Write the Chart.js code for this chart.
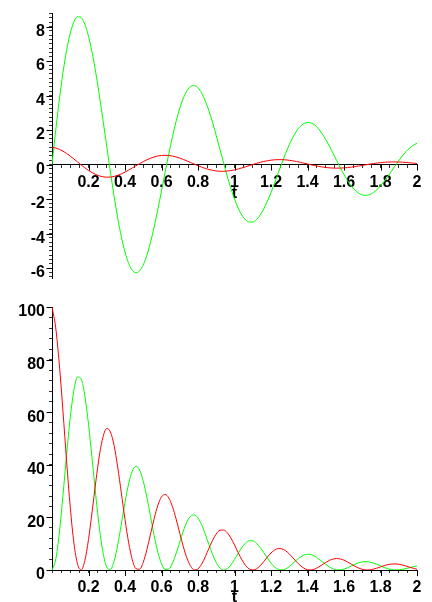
<!DOCTYPE html>
<html>
<head>
<meta charset="utf-8">
<script src="https://cdn.jsdelivr.net/npm/chart.js@4.4.1/dist/chart.umd.min.js"></script>
<style>
  html, body { margin: 0; padding: 0; background: #fff; width: 432px; height: 602px; overflow: hidden; }
  .box { position: absolute; left: 0; width: 432px; }
  #top { top: 0; height: 292px; }
  #bottom { top: 292px; height: 310px; }
  canvas { display: block; }
</style>
</head>
<body>
<div class="box" id="top"><canvas id="c1" width="432" height="292"></canvas></div>
<div class="box" id="bottom"><canvas id="c2" width="432" height="310"></canvas></div>
<script>
// sample times
const t = [
  0, 0.02, 0.04, 0.06, 0.08, 0.10, 0.12, 0.14, 0.16, 0.18,
  0.20, 0.22, 0.24, 0.26, 0.28, 0.30, 0.32, 0.34, 0.36, 0.38,
  0.40, 0.42, 0.44, 0.46, 0.48, 0.50, 0.52, 0.54, 0.56, 0.58,
  0.60, 0.62, 0.64, 0.66, 0.68, 0.70, 0.72, 0.74, 0.76, 0.78,
  0.80, 0.82, 0.84, 0.86, 0.88, 0.90, 0.92, 0.94, 0.96, 0.98,
  1.00, 1.02, 1.04, 1.06, 1.08, 1.10, 1.12, 1.14, 1.16, 1.18,
  1.20, 1.22, 1.24, 1.26, 1.28, 1.30, 1.32, 1.34, 1.36, 1.38,
  1.40, 1.42, 1.44, 1.46, 1.48, 1.50, 1.52, 1.54, 1.56, 1.58,
  1.60, 1.62, 1.64, 1.66, 1.68, 1.70, 1.72, 1.74, 1.76, 1.78,
  1.80, 1.82, 1.84, 1.86, 1.88, 1.90, 1.92, 1.94, 1.96, 1.98,
  2.00
];

// upper panel: displacement (red) and velocity-like term (green)
const displacement = [
  1.000, 0.961, 0.885, 0.777, 0.643, 0.489, 0.321, 0.148, -0.025, -0.190,
  -0.341, -0.472, -0.580, -0.661, -0.712, -0.733, -0.725, -0.688, -0.626, -0.541,
  -0.438, -0.322, -0.198, -0.071, 0.054, 0.172, 0.279, 0.370, 0.443, 0.496,
  0.527, 0.536, 0.524, 0.491, 0.440, 0.374, 0.296, 0.209, 0.118, 0.025,
  -0.065, -0.149, -0.224, -0.287, -0.336, -0.371, -0.389, -0.391, -0.377, -0.349,
  -0.309, -0.258, -0.198, -0.134, -0.066, 0.002, 0.066, 0.126, 0.178, 0.221,
  0.254, 0.276, 0.285, 0.284, 0.270, 0.247, 0.215, 0.176, 0.131, 0.083,
  0.034, -0.015, -0.062, -0.104, -0.140, -0.170, -0.191, -0.204, -0.209, -0.205,
  -0.193, -0.174, -0.149, -0.119, -0.086, -0.050, -0.014, 0.021, 0.054, 0.084,
  0.109, 0.129, 0.143, 0.151, 0.152, 0.148, 0.138, 0.123, 0.103, 0.080,
  0.055
];
const velocity = [
  0, 1.95, 3.74, 5.32, 6.62, 7.61, 8.27, 8.57, 8.52, 8.13,
  7.44, 6.49, 5.31, 3.98, 2.53, 1.05, -0.42, -1.82, -3.09, -4.19,
  -5.07, -5.73, -6.13, -6.27, -6.16, -5.82, -5.25, -4.50, -3.61, -2.60,
  -1.53, -0.45, 0.61, 1.61, 2.50, 3.26, 3.86, 4.29, 4.53, 4.58,
  4.45, 4.14, 3.69, 3.11, 2.43, 1.68, 0.89, 0.10, -0.67, -1.38,
  -2.00, -2.52, -2.93, -3.20, -3.33, -3.33, -3.20, -2.94, -2.58, -2.13,
  -1.62, -1.06, -0.48, 0.10, 0.64, 1.15, 1.58, 1.94, 2.21, 2.37,
  2.44, 2.41, 2.29, 2.08, 1.79, 1.45, 1.07, 0.65, 0.23, -0.19,
  -0.58, -0.94, -1.24, -1.48, -1.66, -1.76, -1.79, -1.74, -1.63, -1.46,
  -1.24, -0.98, -0.69, -0.39, -0.08, 0.22, 0.50, 0.75, 0.96, 1.12,
  1.24
];

// lower panel: the two energy terms
const potential = [
  100, 92.3, 78.3, 60.4, 41.4, 23.9, 10.3, 2.18, 0.06, 3.60,
  11.6, 22.3, 33.6, 43.7, 50.7, 53.8, 52.5, 47.4, 39.1, 29.3,
  19.2, 10.4, 3.92, 0.50, 0.29, 2.96, 7.76, 13.7, 19.6, 24.6,
  27.8, 28.7, 27.4, 24.1, 19.4, 14.0, 8.77, 4.38, 1.38, 0.06,
  0.43, 2.23, 5.03, 8.25, 11.3, 13.7, 15.1, 15.2, 14.2, 12.2,
  9.53, 6.63, 3.93, 1.78, 0.44, 0.00, 0.44, 1.58, 3.17, 4.90,
  6.46, 7.60, 8.15, 8.04, 7.31, 6.12, 4.63, 3.10, 1.73, 0.70,
  0.11, 0.02, 0.38, 1.07, 1.96, 2.87, 3.65, 4.17, 4.36, 4.21,
  3.74, 3.04, 2.23, 1.43, 0.74, 0.25, 0.02, 0.05, 0.30, 0.70,
  1.19, 1.66, 2.05, 2.28, 2.32, 2.19, 1.90, 1.50, 1.06, 0.64,
  0.30
];
const kinetic = [
  0, 3.79, 14.0, 28.3, 43.9, 58.0, 68.3, 73.4, 72.6, 66.2,
  55.4, 42.1, 28.2, 15.8, 6.41, 1.09, 0.18, 3.31, 9.53, 17.5,
  25.7, 32.8, 37.6, 39.4, 38.0, 33.8, 27.6, 20.3, 13.0, 6.77,
  2.35, 0.20, 0.38, 2.59, 6.27, 10.6, 14.9, 18.4, 20.5, 20.9,
  19.8, 17.2, 13.6, 9.66, 5.89, 2.81, 0.79, 0.01, 0.45, 1.89,
  4.01, 6.37, 8.56, 10.2, 11.1, 11.1, 10.2, 8.64, 6.65, 4.54,
  2.61, 1.12, 0.23, 0.01, 0.41, 1.31, 2.50, 3.76, 4.86, 5.64,
  5.97, 5.82, 5.23, 4.32, 3.22, 2.11, 1.14, 0.42, 0.05, 0.04,
  0.34, 0.87, 1.53, 2.19, 2.74, 3.08, 3.19, 3.04, 2.66, 2.14,
  1.54, 0.96, 0.48, 0.15, 0.01, 0.05, 0.25, 0.56, 0.92, 1.26,
  1.53
];

const RED = '#ff0000';
const GREEN = '#00ff00';
const FONT = { family: '"Liberation Sans", Arial, sans-serif', size: 16, weight: 'bold' };

const pairs = ys => t.map((x, i) => ({ x, y: ys[i] }));

function line(data, color) {
  return {
    data: pairs(data),
    borderColor: color,
    borderWidth: 1,
    pointRadius: 0,
    fill: false,
    cubicInterpolationMode: 'monotone'
  };
}

function xAxis(position, height, titlePad) {
  return {
    type: 'linear', min: 0, max: 2, position,
    border: { display: true, color: '#000', width: 1 },
    grid: { drawOnChartArea: false, drawTicks: true, tickLength: 3, color: '#333' },
    ticks: {
      stepSize: 0.05, autoSkip: false, maxRotation: 0, includeBounds: false,
      padding: 5, color: '#000', font: FONT,
      callback: v => {
        const k = Math.round(v / 0.05);
        return (k % 4 === 0 && k !== 0) ? String(+v.toFixed(1)) : '';
      }
    },
    title: { display: true, text: 't', color: '#000', font: FONT, padding: { top: 0, bottom: titlePad } },
    afterFit: s => { s.height = height; }
  };
}

function yAxis(min, max, step, major) {
  return {
    type: 'linear', min, max, position: 'left',
    border: { display: true, color: '#000', width: 1 },
    grid: { drawOnChartArea: false, drawTicks: true, tickLength: 3, color: '#333' },
    ticks: {
      stepSize: step, autoSkip: false, includeBounds: false,
      padding: 4, labelOffset: 5, color: '#000', font: FONT,
      callback: v => {
        const k = Math.round(v / step);
        const per = Math.round(major / step);
        return k % per === 0 ? String(Math.round(v)) : '';
      }
    },
    afterFit: s => { s.width = 52; }
  };
}

// longer marks at the labelled ticks
const majorTicks = {
  id: 'majorTicks',
  afterDraw(chart) {
    const ctx = chart.ctx;
    ctx.save();
    ctx.strokeStyle = '#000';
    ctx.lineWidth = 1;
    for (const scale of Object.values(chart.scales)) {
      ctx.beginPath();
      scale.ticks.forEach(tk => {
        if (!tk.label) return;
        const p = Math.round(scale.getPixelForValue(tk.value)) + 0.5;
        if (scale.isHorizontal()) {
          const y0 = chart.scales.y.getPixelForValue(Math.max(chart.scales.y.min, 0));
          ctx.moveTo(p, y0);
          ctx.lineTo(p, y0 + 6);
        } else {
          const x0 = Math.round(scale.right) + 0.5;
          ctx.moveTo(x0, p);
          ctx.lineTo(x0 - 6, p);
        }
      });
      ctx.stroke();
    }
    ctx.restore();
  }
};

const common = {
  responsive: false,
  animation: false,
  events: [],
  plugins: { legend: { display: false }, tooltip: { enabled: false } }
};

new Chart(document.getElementById('c1'), {
  type: 'line',
  data: { datasets: [line(displacement, RED), line(velocity, GREEN)] },
  options: Object.assign({}, common, {
    layout: { padding: { left: 0, right: 15, top: 10, bottom: 9 } },
    scales: {
      x: xAxis({ y: 0 }, 39, 0),
      y: yAxis(-6.6, 8.75, 0.25, 2)
    }
  }),
  plugins: [majorTicks]
});

new Chart(document.getElementById('c2'), {
  type: 'line',
  data: { datasets: [line(potential, RED), line(kinetic, GREEN)] },
  options: Object.assign({}, common, {
    layout: { padding: { left: 0, right: 15, top: 15, bottom: 0 } },
    scales: {
      x: xAxis('bottom', 32, -5),
      y: yAxis(0, 100, 4, 20)
    }
  }),
  plugins: [majorTicks]
});
</script>
</body>
</html>
